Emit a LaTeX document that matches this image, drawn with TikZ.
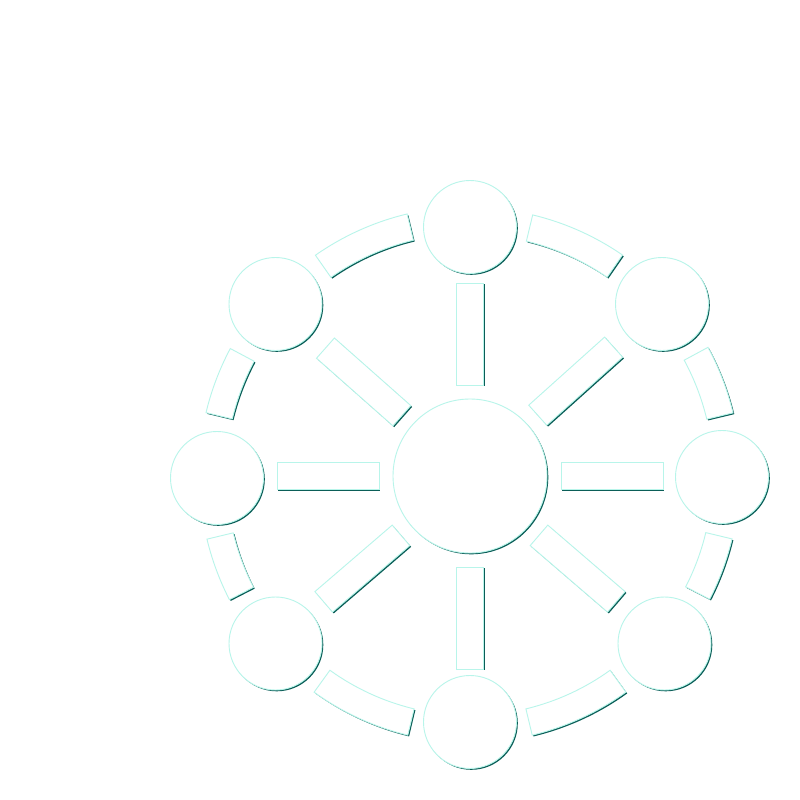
\documentclass[tikz,border=0pt]{standalone}
\definecolor{pale}{HTML}{B8F5EA}
\definecolor{shadowc}{HTML}{0B5E58}
\tikzset{
  outline/.style={draw=pale, line width=0.9pt, fill=white},
  shadowpart/.style={fill=shadowc, draw=none, shift={(1.3,-1.3)}},
  hub/.style={circle, outline, minimum size=154pt, inner sep=0pt},
  sat/.style={circle, outline, minimum size=93pt, inner sep=0pt},
  atcentre/.style={shift={(470,-476)}},
}
\begin{document}
\begin{tikzpicture}[x=1pt,y=1pt]
\useasboundingbox (0,0) rectangle (800,-800);
\fill[white] (0,0) rectangle (800,-800);
\coordinate (C) at (470,-476);
% shadows of circles
\foreach \x/\y/\r in {470/476/77, 722/477/46.5, 664.5/643.5/46.5, 470/722/46.5, 275.5/643.5/46.5, 217/478/46.5, 275.5/304/46.5, 470/227/46.5, 662/304/46.5}
  \fill[shadowpart] (\x,-\y) circle (\r);
% spokes (math angles)
\foreach \a in {0,-40.7,-90,-139.3,180,138.5,90,41.9}{
  \fill[shadowpart, atcentre, rotate=\a] (91,-13.5) rectangle (193,13.5);
  \draw[outline, atcentre, rotate=\a] (91,-13.5) rectangle (193,13.5);
}
% ring bars
\foreach \m/\r/\h in {-20.35/256/6.85, -65.35/253/11.15, -114.65/253/11.15, -159.65/257/6.85, 159.25/258/7.25, 114.25/256/10.75, 65.95/255/10.55, 20.95/257/7.45}{
  \pgfmathsetmacro{\sa}{\m-\h}
  \pgfmathsetmacro{\ea}{\m+\h}
  \pgfmathsetmacro{\ri}{\r-13.5}
  \pgfmathsetmacro{\ro}{\r+13.5}
  \fill[shadowpart, atcentre] (\sa:\ri) arc[start angle=\sa, end angle=\ea, radius=\ri] -- (\ea:\ro) arc[start angle=\ea, end angle=\sa, radius=\ro] -- cycle;
  \draw[outline, atcentre] (\sa:\ri) arc[start angle=\sa, end angle=\ea, radius=\ri] -- (\ea:\ro) arc[start angle=\ea, end angle=\sa, radius=\ro] -- cycle;
}
% circles
\node[hub] (hub) at (C) {};
\node[sat] (r)  at (722,-477) {};
\node[sat] (br) at (664.5,-643.5) {};
\node[sat] (b)  at (470,-722) {};
\node[sat] (bl) at (275.5,-643.5) {};
\node[sat] (l)  at (217,-478) {};
\node[sat] (tl) at (275.5,-304) {};
\node[sat] (t)  at (470,-227) {};
\node[sat] (tr) at (662,-304) {};
\end{tikzpicture}
\end{document}
